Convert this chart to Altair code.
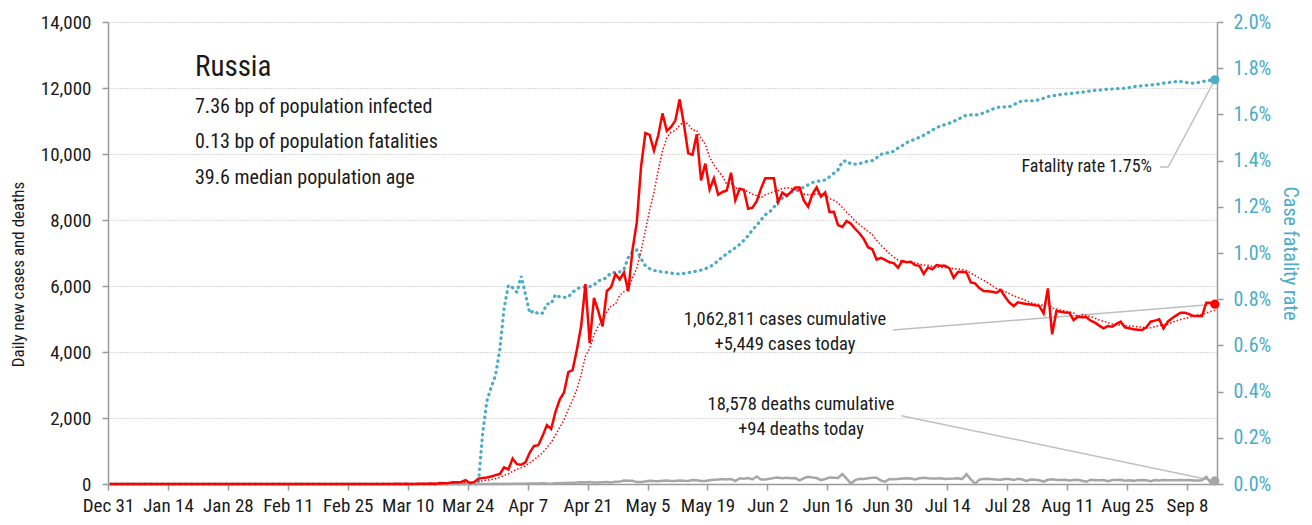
import altair as alt
import pandas as pd

FONT = "Roboto Condensed"
TXT = "#1a1a1a"
BLUE = "#4bacc6"
RED = "#ff0000"
GRAY = "#a6a6a6"
LEAD = "#bfbfbf"
AXC = "#9a9a9a"

START = "2019-12-31"          # first day on the axis
N_DOMAIN_DAYS = 259            # axis runs to Sep 15 00:00

# ---------------- daily new cases (one value per day from Dec 31) ----------------
cases_dec31_feb29 = [0] * 32 + [2] + [0] * 28
cases_mar = [0, 0, 1, 0, 0, 1, 6, 3, 4, 0, 3, 8, 6, 11, 14, 4, 27, 24, 33, 52,
             54, 61, 115, 30, 57, 163, 182, 196, 228, 270, 302]
cases_apr = [501, 440, 771, 601, 582, 658, 954, 1154, 1175, 1459, 1786, 1667, 2186, 2558, 2774,
             3388, 3448, 4070, 4785, 6060, 4268, 5642, 5236, 4774, 5849, 5966, 6361, 6198, 6411, 5841]
cases_may = [7099, 7933, 9623, 10633, 10581, 10102, 10559, 11231, 10699, 10817, 11012, 11656, 10899,
             10028, 9974, 10598, 9200, 9709, 8926, 9263, 8764, 8849, 8894, 9434, 8599, 8946, 8915,
             8338, 8371, 8572, 8952]
cases_jun = [9268, 9268, 9263, 8536, 8831, 8726, 8855, 8984, 8985, 8595, 8404, 8779, 8987, 8706, 8835,
             8246, 8248, 7843, 7790, 7972, 7889, 7728, 7600, 7425, 7176, 7113, 6800, 6852, 6791, 6719]
cases_jul = [6693, 6556, 6760, 6718, 6736, 6632, 6611, 6368, 6562, 6509, 6635, 6611, 6615, 6537, 6248,
             6422, 6428, 6406, 6110, 6081, 5940, 5848, 5842, 5827, 5797, 5878, 5676, 5500, 5393, 5505, 5480]
cases_aug = [5454, 5440, 5420, 5393, 5172, 5929, 4535, 5242, 5222, 5200, 5191, 4969, 5070, 5050, 5050,
             4950, 4889, 4800, 4717, 4787, 4767, 4850, 4919, 4747, 4720, 4686, 4676, 4666, 4747, 4919, 4950]
cases_sep = [4990, 4717, 4919, 5020, 5110, 5191, 5191, 5150, 5090, 5090, 5090, 5494, 5494, 5449]

# ---------------- daily deaths ----------------
deaths_dec31_feb29 = [0] * 61
deaths_mar = [0] * 26 + [3, 1, 0, 4, 2]
deaths_apr = [8, 2, 7, 4, 7, 11, 13, 13, 18, 22, 13, 11, 19, 24, 33, 28, 41, 43, 51, 48,
              57, 45, 42, 50, 58, 47, 66, 72, 108, 101]
deaths_may = [96, 57, 58, 76, 95, 88, 86, 98, 104, 88, 94, 107, 96, 93, 119, 113, 94, 91, 115, 127,
              135, 150, 139, 153, 92, 174, 161, 181, 138, 225, 138]
deaths_jun = [134, 162, 182, 197, 178, 190, 171, 180, 112, 174, 216, 194, 181, 119, 150, 194, 193, 182,
              300, 160, 15, 120, 161, 154, 176, 188, 192, 104, 70, 154]
deaths_jul = [147, 154, 168, 176, 168, 135, 173, 190, 175, 168, 170, 174, 154, 160, 165, 175, 150, 300,
              140, 5, 130, 155, 160, 147, 134, 129, 150, 151, 119, 161, 138]
deaths_aug = [95, 133, 127, 114, 70, 129, 144, 124, 119, 129, 110, 122, 128, 98, 68, 130, 117, 114,
              121, 86, 123, 120, 130, 98, 110, 95, 115, 121, 117, 86, 122]
deaths_sep = [104, 123, 117, 110, 112, 119, 115, 119, 108, 105, 113, 220, 40, 94]

# ---------------- case fatality rate, percent ----------------
cfr_pct_dec31_mar25 = [0.0] * 86
cfr_pct_from_mar26 = [
    0.00, 0.22, 0.36, 0.42, 0.47, 0.58, 0.76, 0.86, 0.85, 0.83,
    0.90, 0.82, 0.74, 0.75, 0.736, 0.74, 0.78, 0.78, 0.82, 0.81,
    0.808, 0.81, 0.83, 0.845, 0.852, 0.854, 0.854, 0.861, 0.88, 0.883,
    0.895, 0.915, 0.916, 0.918, 0.93, 0.98, 1.005, 1.013, 0.975, 0.945,
    0.932, 0.925, 0.92, 0.918, 0.916, 0.913, 0.91, 0.909, 0.912, 0.915,
    0.918, 0.922, 0.926, 0.932, 0.94, 0.95, 0.968, 0.982, 0.997, 1.01,
    1.022, 1.037, 1.055, 1.075, 1.1, 1.12, 1.143, 1.165, 1.178, 1.198,
    1.225, 1.238, 1.252, 1.262, 1.268, 1.276, 1.285, 1.295, 1.305, 1.31,
    1.312, 1.316, 1.33, 1.345, 1.36, 1.395, 1.4, 1.385, 1.385, 1.387,
    1.392, 1.398, 1.4, 1.412, 1.427, 1.432, 1.435, 1.44, 1.455, 1.465,
    1.478, 1.485, 1.493, 1.501, 1.51, 1.52, 1.532, 1.543, 1.55, 1.556,
    1.562, 1.57, 1.578, 1.588, 1.597, 1.598, 1.597, 1.6, 1.607, 1.614,
    1.622, 1.63, 1.632, 1.633, 1.633, 1.642, 1.651, 1.659, 1.659, 1.659,
    1.659, 1.664, 1.67, 1.677, 1.68, 1.683, 1.686, 1.688, 1.69, 1.692,
    1.694, 1.696, 1.699, 1.702, 1.704, 1.705, 1.707, 1.709, 1.71, 1.711,
    1.712, 1.713, 1.716, 1.72, 1.723, 1.724, 1.726, 1.727, 1.729, 1.732,
    1.735, 1.737, 1.74, 1.742, 1.742, 1.74, 1.736, 1.735, 1.738, 1.742,
    1.745, 1.748, 1.75]

# axis tick labels every 14 days from Dec 31
tick_day_offsets = list(range(0, 253, 14))
left_ticks = list(range(0, 14001, 2000))
right_ticks = [0.0, 0.002, 0.004, 0.006, 0.008, 0.010, 0.012, 0.014, 0.016, 0.018, 0.020]

# annotation anchors (day offset from Dec 31, value)
cases_leader_start = (183.3, 4666)
deaths_leader_start = (185.3, 2070)
cfr_leader_start = [(245.7, 0.01372), (247.6, 0.01372)]

info_texts = [("Russia", 87, 45, 29),
              ("7.36 bp of population infected", 87, 85, 20),
              ("0.13 bp of population fatalities", 87, 120, 20),
              ("39.6 median population age", 87, 156, 20)]
note_texts = [("Fatality rate 1.75%", 1044, 145, 18, "right"),
              ("1,062,811 cases cumulative", 677, 297, 18.5, "center"),
              ("+5,449 cases today", 677, 322, 18.5, "center"),
              ("18,578 deaths cumulative", 693, 382, 18.5, "center"),
              ("+94 deaths today", 693, 407, 18.5, "center")]

# ---------------- build table ----------------
cases = cases_dec31_feb29 + cases_mar + cases_apr + cases_may + cases_jun + cases_jul + cases_aug + cases_sep
deaths = deaths_dec31_feb29 + deaths_mar + deaths_apr + deaths_may + deaths_jun + deaths_jul + deaths_aug + deaths_sep
cfr_pct = cfr_pct_dec31_mar25 + cfr_pct_from_mar26
n = min(len(cases), len(deaths), len(cfr_pct))

DAY = 86400000
start_ms = int(pd.Timestamp(START).value // 10**6)
t = [start_ms + i * DAY + DAY // 2 for i in range(n)]
df = pd.DataFrame({"t": t, "cases": cases[:n], "deaths": deaths[:n],
                   "cfr": [c / 100.0 for c in cfr_pct[:n]]})
last = df.iloc[[-1]]

X_SCALE = alt.Scale(type="utc", domain=[start_ms, start_ms + N_DOMAIN_DAYS * DAY])
AX_X = alt.Axis(values=[start_ms + d * DAY for d in tick_day_offsets], format="%b %-d",
                labelFont=FONT, labelFontSize=19, labelColor=TXT, labelPadding=6,
                labelFlush=False, labelOverlap=False, tickSize=6, tickWidth=1.5, tickColor=AXC,
                domainColor=AXC, domainWidth=1.5, grid=False, title=None)
L_SCALE = alt.Scale(domain=[0, 14000], nice=False)
AX_L = alt.Axis(orient="left", values=left_ticks, format=",.0f", grid=True, gridDash=[1, 2],
                gridColor="#b5b5b5", gridWidth=1, domainColor=AXC, domainWidth=1.5,
                tickColor=AXC, tickSize=6, tickWidth=1.5, labelFont=FONT, labelFontSize=19,
                labelColor=TXT, labelPadding=11, title="Daily new cases and deaths",
                titleFont=FONT, titleFontSize=17, titleFontWeight="normal", titleColor=TXT,
                titleAngle=270, titleX=-90, titleY=252, titleAlign="center", titleBaseline="middle")
R_SCALE = alt.Scale(domain=[0, 0.02], nice=False)
AX_R = alt.Axis(orient="right", values=right_ticks, format=".1%", grid=False,
                domainColor=AXC, domainWidth=1.5, tickColor=AXC, tickSize=6, tickWidth=1.5,
                labelFont=FONT, labelFontSize=20, labelColor=BLUE, labelPadding=10,
                title="Case fatality rate", titleFont=FONT, titleFontSize=20,
                titleFontWeight="normal", titleColor=BLUE, titleAngle=90, titleX=72, titleY=231,
                titleAlign="center", titleBaseline="middle")


def xenc(field="t"):
    return alt.X(f"{field}:T", scale=X_SCALE, axis=AX_X)


def yl(field):
    return alt.Y(f"{field}:Q", scale=L_SCALE, axis=AX_L)


def yr(field):
    return alt.Y(f"{field}:Q", scale=R_SCALE, axis=AX_R)


base = alt.Chart(df)

# right-axis group: case fatality rate
cfr_line = base.mark_line(color=BLUE, strokeWidth=3.2, strokeDash=[0.5, 5.3], strokeCap="round").encode(
    x=xenc(), y=yr("cfr"))
cfr_lead_df = pd.DataFrame({"t": [start_ms + d * DAY for d, _ in cfr_leader_start] + [t[n - 1]],
                            "v": [v for _, v in cfr_leader_start] + [df["cfr"].iloc[-1]]})
cfr_lead = alt.Chart(cfr_lead_df).mark_line(color=LEAD, strokeWidth=1.5).encode(x=xenc(), y=yr("v"))
cfr_dot = alt.Chart(last).mark_circle(color=BLUE, size=85, opacity=1).encode(x=xenc(), y=yr("cfr"))
right = alt.layer(cfr_line, cfr_lead, cfr_dot)

# left-axis group: cases and deaths
deaths_line = base.mark_line(color=GRAY, strokeWidth=2.5).encode(x=xenc(), y=yl("deaths"))
ma_line = base.transform_window(ma="mean(cases)", frame=[-6, 0], sort=[alt.SortField("t")]).mark_line(
    color=RED, strokeWidth=1.5, strokeDash=[1.5, 2]).encode(x=xenc(), y=yl("ma"))
cases_line = base.mark_line(color=RED, strokeWidth=2.5).encode(x=xenc(), y=yl("cases"))
lead_cases = alt.Chart(pd.DataFrame({"t": [start_ms + cases_leader_start[0] * DAY, t[n - 1]],
                                     "v": [cases_leader_start[1], cases[n - 1]]})).mark_line(
    color=LEAD, strokeWidth=1.5).encode(x=xenc(), y=yl("v"))
lead_deaths = alt.Chart(pd.DataFrame({"t": [start_ms + deaths_leader_start[0] * DAY, t[n - 1]],
                                      "v": [deaths_leader_start[1], deaths[n - 1]]})).mark_line(
    color=LEAD, strokeWidth=1.5).encode(x=xenc(), y=yl("v"))
cases_dot = alt.Chart(last).mark_circle(color=RED, size=85, opacity=1).encode(x=xenc(), y=yl("cases"))
deaths_dot = alt.Chart(last).mark_circle(color=GRAY, size=85, opacity=1).encode(x=xenc(), y=yl("deaths"))
left = alt.layer(lead_cases, lead_deaths, deaths_line, ma_line, cases_line, cases_dot, deaths_dot)

text_layers = []
for txt, px, py, fs in info_texts:
    text_layers.append(alt.Chart(pd.DataFrame({"s": [txt]})).mark_text(
        font=FONT, fontSize=fs, align="left", baseline="middle", color=TXT).encode(
        x=alt.value(px), y=alt.value(py), text="s:N"))
for txt, px, py, fs, al in note_texts:
    text_layers.append(alt.Chart(pd.DataFrame({"s": [txt]})).mark_text(
        font=FONT, fontSize=fs, align=al, baseline="middle", color=TXT).encode(
        x=alt.value(px), y=alt.value(py), text="s:N"))

chart = alt.layer(right, left, *text_layers).resolve_scale(y="independent").resolve_axis(
    y="independent").properties(
    width=1109, height=462,
    padding={"left": 100, "top": 14, "right": 86, "bottom": 33},
    autosize=alt.AutoSizeParams(type="none")
).configure_view(strokeWidth=0)

chart.save("out.html", embed_options={"renderer": "svg", "actions": False})
